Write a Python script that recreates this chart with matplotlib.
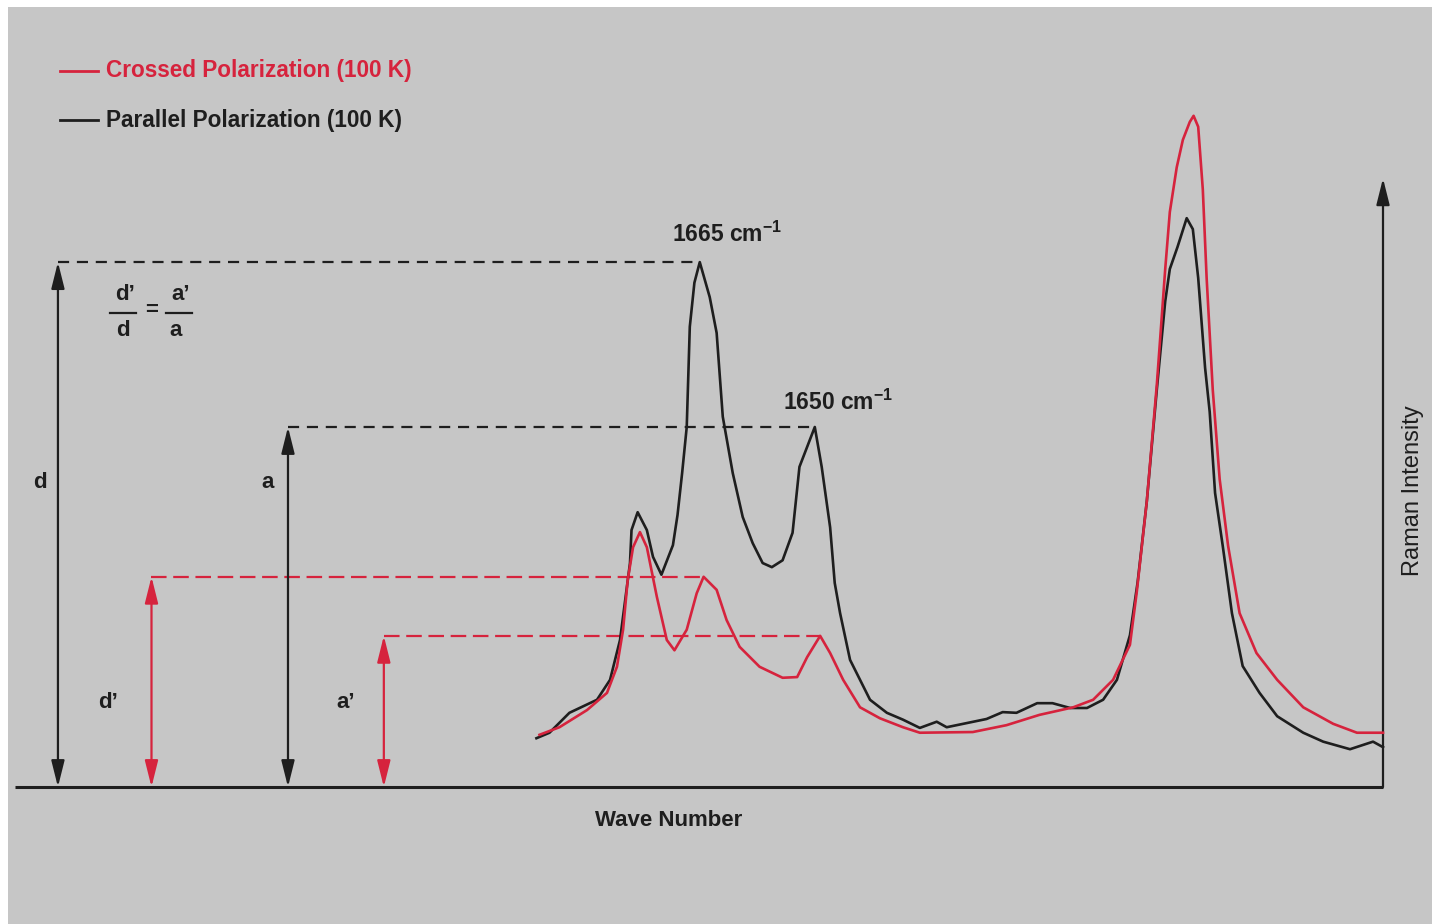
import numpy as np
import matplotlib.pyplot as plt
from matplotlib.lines import Line2D
from matplotlib.patches import Rectangle

plt.rcParams['font.family'] = ['Liberation Sans', 'DejaVu Sans']
plt.rcParams['mathtext.fontset'] = 'custom'
plt.rcParams['mathtext.rm'] = 'Liberation Sans:bold'
plt.rcParams['mathtext.default'] = 'rm'

W, H = 1432, 924
BG = '#c6c6c6'
RED = '#d6233d'
INK = '#1e1e1e'

# Amide I region, 100 K. Wavenumber in cm^-1, intensity in arbitrary units.
wn_parallel = [1686.3, 1684.6, 1682.0, 1678.4, 1676.7, 1675.4, 1674.1, 1673.9, 1673.1,
               1671.9, 1671.1, 1670.0, 1668.5, 1667.9, 1667.3, 1666.7, 1666.3, 1665.7,
               1665.0, 1663.7, 1662.8, 1662.0, 1660.7, 1659.4, 1658.1, 1656.8, 1655.6,
               1654.2, 1652.9, 1652.0, 1651.0, 1650.0, 1649.1, 1648.0, 1647.4, 1646.7,
               1645.4, 1642.8, 1640.6, 1638.5, 1636.3, 1634.1, 1632.8, 1630.2, 1627.6,
               1625.5, 1623.7, 1621.0, 1619.0, 1616.7, 1614.5, 1612.4, 1610.6, 1608.9,
               1607.9, 1606.7, 1605.4, 1604.3, 1603.7, 1602.7, 1601.5, 1600.7, 1600.0,
               1599.1, 1598.5, 1597.8, 1596.8, 1595.6, 1594.2, 1592.0, 1589.7, 1586.3,
               1583.7, 1580.2, 1577.2, 1575.9]
int_parallel = [7.1, 7.9, 10.8, 12.7, 15.6, 21.4, 32.6, 37.4, 40.0,
                37.4, 33.5, 30.9, 35.2, 39.6, 45.7, 52.4, 67.0, 73.4,
                76.4, 71.3, 66.1, 53.9, 45.7, 39.3, 35.5, 32.6, 32.0,
                33.0, 37.0, 46.6, 49.5, 52.4, 46.6, 37.8, 29.7, 25.3,
                18.5, 12.7, 10.8, 9.8, 8.6, 9.5, 8.7, 9.3, 9.9,
                10.9, 10.8, 12.2, 12.2, 11.5, 11.5, 12.7, 15.6, 22.1,
                29.8, 41.6, 57.8, 70.7, 75.4, 78.6, 82.8, 81.2, 74.1,
                61.0, 54.6, 42.8, 35.1, 25.3, 17.6, 13.7, 10.3, 7.9,
                6.6, 5.5, 6.6, 5.8]

wn_crossed = [1685.9, 1683.3, 1679.7, 1677.1, 1675.8, 1675.0, 1674.4, 1673.7, 1672.8,
              1671.9, 1670.6, 1669.3, 1668.3, 1666.7, 1665.4, 1664.5, 1662.8, 1661.5,
              1659.8, 1657.2, 1654.2, 1652.3, 1651.0, 1649.3, 1648.0, 1646.3, 1644.1,
              1641.5, 1638.5, 1636.3, 1629.4, 1625.0, 1620.7, 1616.3, 1613.7, 1611.1,
              1608.9, 1608.0, 1606.7, 1605.4, 1604.3, 1603.7, 1602.8, 1602.0, 1601.1,
              1600.6, 1600.0, 1599.4, 1598.9, 1598.1, 1597.2, 1596.1, 1594.6, 1592.4,
              1589.7, 1586.3, 1582.4, 1579.3, 1575.9]
int_crossed = [7.6, 8.7, 11.2, 13.7, 17.5, 22.9, 30.1, 34.9, 37.1,
               34.9, 27.7, 21.4, 19.9, 22.9, 28.2, 30.6, 28.7, 24.3,
               20.4, 17.5, 15.9, 16.0, 18.9, 22.0, 19.5, 15.6, 11.6,
               10.0, 8.7, 7.9, 8.0, 9.0, 10.5, 11.6, 12.7, 15.6,
               20.7, 28.5, 41.6, 58.5, 75.4, 83.7, 90.2, 94.2, 96.8,
               97.7, 96.1, 87.0, 74.1, 57.8, 44.8, 35.1, 25.3, 19.5,
               15.6, 11.6, 9.2, 7.9, 7.9]

WN_RANGE = (1754.3, 1575.9)
AXIS_TOP = 88.6

# x positions of the height markers (cm^-1)
D_X, DP_X, A_X, AP_X = 1748.7, 1736.5, 1718.7, 1706.2


def fpx(x, y):
    # pixel position -> figure fraction
    return x / W, 1 - y / H


def peak(wn, vals, lo, hi):
    wn = np.asarray(wn)
    vals = np.asarray(vals)
    m = (wn >= lo) & (wn <= hi)
    i = np.argmax(np.where(m, vals, -np.inf))
    return wn[i], vals[i]


fig = plt.figure(figsize=(W / 100, H / 100), dpi=100, facecolor='white')
fig.patches.append(Rectangle((8 / W, 0), 1, 1 - 7 / H, transform=fig.transFigure,
                             facecolor=BG, edgecolor='none', zorder=-10))

ax = fig.add_axes([15 / W, (H - 787) / H, 1368 / W, 687 / H])
ax.set_xlim(*WN_RANGE)
ax.set_ylim(0, 100)
ax.axis('off')

head = 'head_length=0.8,head_width=0.2'

# baseline and intensity axis
ax.plot(WN_RANGE, [0, 0], color=INK, lw=2.2, clip_on=False, solid_capstyle='butt', zorder=5)
ax.annotate('', xy=(WN_RANGE[1], AXIS_TOP), xytext=(WN_RANGE[1], 0),
            arrowprops=dict(arrowstyle='-|>,' + head, mutation_scale=20,
                            color=INK, lw=1.6, shrinkA=0, shrinkB=0))

ax.plot(wn_parallel, int_parallel, color=INK, lw=1.9, zorder=3, clip_on=False,
        solid_joinstyle='round')
ax.plot(wn_crossed, int_crossed, color=RED, lw=1.9, zorder=4, clip_on=False,
        solid_joinstyle='round')

d_x, d = peak(wn_parallel, int_parallel, 1660, 1670)
a_x, a = peak(wn_parallel, int_parallel, 1645, 1655)
dp_x, dp = peak(wn_crossed, int_crossed, 1660, 1670)
ap_x, ap = peak(wn_crossed, int_crossed, 1645, 1655)

for x0, xp, h, col in [(D_X, d_x, d, INK), (A_X, a_x, a, INK),
                       (DP_X, dp_x, dp, RED), (AP_X, ap_x, ap, RED)]:
    dash = (5, 3.5) if col == INK else (7, 3)
    ax.plot([x0, xp], [h, h], color=col, lw=1.6, dashes=dash, zorder=2)
    ax.annotate('', xy=(x0, h), xytext=(x0, 0),
                arrowprops=dict(arrowstyle='<|-|>,' + head, mutation_scale=20, color=col,
                                lw=1.6, shrinkA=0, shrinkB=0))

# peak labels
ax.annotate('1665 cm$^{-1}$', xy=(d_x, d), xytext=(27, 28), textcoords='offset pixels',
            ha='center', va='center', fontsize=16.5, fontweight='bold', color=INK)
ax.annotate('1650 cm$^{-1}$', xy=(a_x, a), xytext=(23, 25), textcoords='offset pixels',
            ha='center', va='center', fontsize=16.5, fontweight='bold', color=INK)

# marker letters
lab = dict(ha='center', va='center', fontsize=16, fontweight='bold')
fig.text(*fpx(40, 482), 'd', color=INK, **lab)
fig.text(*fpx(268, 482), 'a', color=INK, **lab)
fig.text(*fpx(108, 703), 'd\u2019', color=INK, **lab)
fig.text(*fpx(346, 703), 'a\u2019', color=INK, **lab)

# ratio d'/d = a'/a
fig.text(*fpx(125, 295), 'd\u2019', color=INK, **lab)
fig.text(*fpx(123, 331), 'd', color=INK, **lab)
fig.text(*fpx(152, 311), '=', color=INK, **lab)
fig.text(*fpx(181, 295), 'a\u2019', color=INK, **lab)
fig.text(*fpx(176, 331), 'a', color=INK, **lab)
for x0, x1 in [(110, 136), (166, 192)]:
    fig.add_artist(Line2D([x0 / W, x1 / W], [1 - 313 / H] * 2, color=INK, lw=1.6))

# legend
for yy, txt, col in [(71, 'Crossed Polarization (100 K)', RED),
                     (120, 'Parallel Polarization (100 K)', INK)]:
    fig.add_artist(Line2D([60 / W, 98 / W], [1 - yy / H] * 2, color=col, lw=2))
    fig.text(*fpx(106, yy), txt, ha='left', va='center', fontsize=16.3,
             fontweight='bold', color=col)

fig.text(*fpx(669, 820), 'Wave Number', ha='center', va='center', fontsize=16,
         fontweight='bold', color=INK)
fig.text(*fpx(1413, 491), 'Raman Intensity', ha='center', va='center', fontsize=17,
         rotation=90, color=INK)

fig.savefig('out.png', dpi=100, facecolor=fig.get_facecolor())
